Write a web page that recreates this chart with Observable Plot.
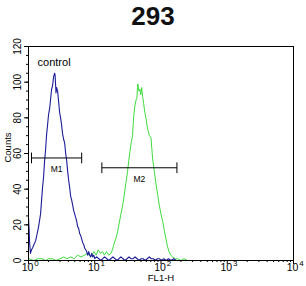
<!DOCTYPE html>
<html><head><meta charset="utf-8">
<script src="https://cdn.jsdelivr.net/npm/d3@7"></script>
<script src="https://cdn.jsdelivr.net/npm/@observablehq/plot@0.6"></script>
<style>
body{margin:0;background:#fff;width:306px;height:286px;overflow:hidden;font-family:"Liberation Sans",Arial,sans-serif;}
#title{height:32px;line-height:32px;text-align:center;font-weight:bold;font-size:26px;color:#111;}
</style></head><body>
<div id="title">293</div>
<div id="chart"></div>
<script>
const blueFL = [1.00,1.02,1.04,1.07,1.11,1.15,1.21,1.28,1.35,1.42,1.52,1.57,1.63,1.69,1.75,1.81,1.87,1.94,2.01,2.08,2.15,2.23,2.31,2.39,2.48,2.52,2.56,2.60,2.65,2.75,2.85,2.95,3.05,3.16,3.27,3.39,3.51,3.64,3.77,3.90,4.04,4.18,4.33,4.48,4.64,4.81,4.98,5.16,5.34,5.52,5.72,5.93,6.14,6.36,6.58,6.81,7.05,7.30,7.56,7.83,8.11,8.40,8.70,9.01,9.33,9.66,10.0,10.7,11.5,12.3,13.2,14.1,15.2,16.3,17.5,18.8,20.2,21.6,23.2,24.8,26.7,28.6,30.7,32.9,35.3,37.9,40.6,43.6,46.8,50.2,53.8,57.8,62.0,66.5,71.4,76.6,82.2,88.2,94.6,101,110,120,130,142,155,170];
const blueCounts = [24,18,10,4,6,7,9,11,15,19,26,33,41,47,56,62,70,76,82,85,90,96,98,103,105,104,99,94,97,95,89,83,80,76,71,68,66,60,56,50,45,41,36,34,31,28,26,24,22,19,18,15,14,12,10,9,7,6,5,3,5,3,2,4,2,3,1,2,1,0,1,2,1,0,1,2,1,0,1,2,1,0,1,2,1,1,2,1,0,1,1,0,1,2,1,1,0,1,1,0,1,0,1,0,1,0];
const greenFL = [1.00,1.2,1.4,1.6,1.8,2.0,2.3,2.6,3.0,3.4,3.8,4.3,4.9,5.5,6.2,7.0,7.8,8.7,9.7,10.5,11.3,12.2,13.1,14.0,15.0,16.2,17.5,18.5,19.4,20.7,22.1,23.4,24.8,26.1,27.5,29.4,31.3,32.6,33.9,35.5,37.2,38.1,39.0,40.5,42.0,43.3,44.1,44.8,46.4,48.1,49.5,51.0,52.8,54.7,57.0,59.3,61.4,63.5,66.8,70.5,72.6,74.8,79.3,84.0,89.0,94.2,100,106,112,119,125,132,140,150,165,179,200,223,250,285];
const greenCounts = [1,0,1,1,0,1,1,0,1,2,1,2,1,3,2,3,4,2,5,3,6,4,5,3,5,3,4,6,9,12,16,21,26,30,35,43,50,56,61,66,70,77,82,87,90,91,97,99,95,96,93,97,92,88,83,80,76,73,70,69,63,57,50,43,37,31,26,22,17,12,8,5,3,2,1,1,0,1,0,0];
const markerNames = ["M1","M2"];
const markerLo = [1.11,12.8];
const markerHi = [6.35,174];
const markerLevel = [57.5,52];
const yMajor = [0,20,40,60,80,100,120];
const yMinor = d3.range(0,121,5);
const xMajor = [1,10,100,1000,10000];
const xBase = "10";
const xExponents = ["0","1","2","3","4"];
const xMinor = [1,10,100,1000].flatMap(d => [2,3,4,5,6,7,8,9].map(k => k*d));
const annotation = "control";
const xTitle = "FL1-H";
const yTitle = "Counts";

const blue = blueFL.map((v,i)=>({v, c: blueCounts[i]}));
const green = greenFL.map((v,i)=>({v, c: greenCounts[i]}));
const markers = markerNames.map((n,i)=>({n, lo: markerLo[i], hi: markerHi[i], y: markerLevel[i], mid: Math.sqrt(markerLo[i]*markerHi[i])}));
const xLab = xMajor.map((v,i)=>({v, e: xExponents[i]}));

const font = "Liberation Sans, Arial, sans-serif";
const chart = Plot.plot({
  width: 306, height: 254,
  marginLeft: 28, marginRight: 13, marginTop: 14, marginBottom: 26,
  style: {fontFamily: font, background: "#fff", color: "#000"},
  x: {type: "log", domain: [1, 10000]},
  y: {domain: [0, 120]},
  marks: [
    Plot.axisY(yMinor, {tickSize: 2, tickFormat: () => "", stroke: "#000"}),
    Plot.axisY(yMajor, {tickSize: 4, tickFormat: () => "", stroke: "#000"}),
    Plot.axisX(xMinor, {tickSize: 2, tickFormat: () => "", stroke: "#000"}),
    Plot.axisX(xMajor, {tickSize: 4, tickFormat: () => "", stroke: "#000"}),
    Plot.text(yMajor, {y: d => d, text: d => String(d), frameAnchor: "left", textAnchor: "middle", dx: -11, rotate: -90, fontSize: 10, fill: "#000"}),
    Plot.text(xLab, {x: "v", text: () => xBase, frameAnchor: "bottom", dy: 10, dx: -1, fontSize: 10.5, fill: "#000"}),
    Plot.text(xLab, {x: "v", text: "e", frameAnchor: "bottom", dy: 5, dx: 8, fontSize: 8, fill: "#000"}),
    Plot.text([xTitle], {text: d => d, frameAnchor: "bottom", dy: 20, fontSize: 9.5, fill: "#000"}),
    Plot.text([yTitle], {text: d => d, frameAnchor: "left", textAnchor: "middle", dx: -21, dy: -6, rotate: -90, fontSize: 9.5, fill: "#000"}),
    Plot.line(green, {x: "v", y: "c", stroke: "#3ddc3d", strokeWidth: 1}),
    Plot.line(blue, {x: "v", y: "c", stroke: "#1c1c98", strokeWidth: 1.1}),
    Plot.link(markers, {x1: "lo", x2: "hi", y1: "y", y2: "y", stroke: "#000", strokeWidth: 1}),
    Plot.link(markers, {x1: "lo", x2: "lo", y1: d => d.y - 3, y2: d => d.y + 3, stroke: "#000"}),
    Plot.link(markers, {x1: "hi", x2: "hi", y1: d => d.y - 3, y2: d => d.y + 3, stroke: "#000"}),
    Plot.text(markers, {x: "mid", y: "y", text: "n", dy: 11, fontSize: 8.5, fill: "#000"}),
    Plot.text([annotation], {x: 1.37, y: 111, text: d => d, textAnchor: "start", fontSize: 11, fill: "#000"}),
    Plot.frame({stroke: "#000", strokeWidth: 1})
  ]
});
document.getElementById("chart").appendChild(chart);
</script>
</body></html>
